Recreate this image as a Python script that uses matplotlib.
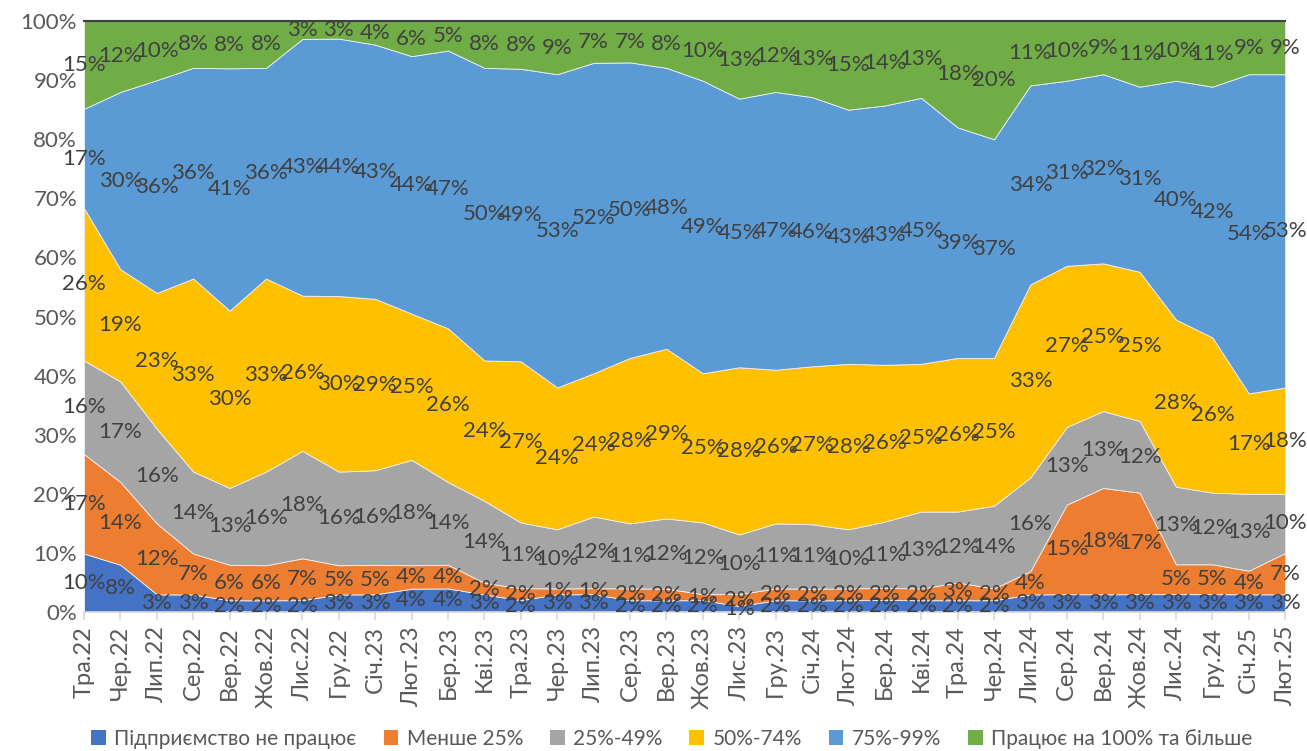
import numpy as np
import matplotlib.pyplot as plt
from matplotlib.patches import Patch

plt.rcParams['font.family'] = ['Lato', 'DejaVu Sans']

months = ["Тра.22", "Чер.22", "Лип.22", "Сер.22", "Вер.22", "Жов.22", "Лис.22", "Гру.22",
          "Січ.23", "Лют.23", "Бер.23", "Кві.23", "Тра.23", "Чер.23", "Лип.23", "Сер.23",
          "Вер.23", "Жов.23", "Лис.23", "Гру.23", "Січ.24", "Лют.24", "Бер.24", "Кві.24",
          "Тра.24", "Чер.24", "Лип.24", "Сер.24", "Вер.24", "Жов.24", "Лис.24", "Гру.24",
          "Січ.25", "Лют.25"]

not_working = [10, 8, 3, 3, 2, 2, 2, 3, 3, 4, 4, 3, 2, 3, 3, 2, 2, 2, 1, 2, 2, 2, 2, 2,
               2, 2, 3, 3, 3, 3, 3, 3, 3, 3]
less_25 = [17, 14, 12, 7, 6, 6, 7, 5, 5, 4, 4, 2, 2, 1, 1, 2, 2, 1, 2, 2, 2, 2, 2, 2,
           3, 2, 4, 15, 18, 17, 5, 5, 4, 7]
p25_49 = [16, 17, 16, 14, 13, 16, 18, 16, 16, 18, 14, 14, 11, 10, 12, 11, 12, 12, 10, 11,
          11, 10, 11, 13, 12, 14, 16, 13, 13, 12, 13, 12, 13, 10]
p50_74 = [26, 19, 23, 33, 30, 33, 26, 30, 29, 25, 26, 24, 27, 24, 24, 28, 29, 25, 28, 26,
          27, 28, 26, 25, 26, 25, 33, 27, 25, 25, 28, 26, 17, 18]
p75_99 = [17, 30, 36, 36, 41, 36, 43, 44, 43, 44, 47, 50, 49, 53, 52, 50, 48, 49, 45, 47,
          46, 43, 43, 45, 39, 37, 34, 31, 32, 31, 40, 42, 54, 53]
full = [15, 12, 10, 8, 8, 8, 3, 3, 4, 6, 5, 8, 8, 9, 7, 7, 8, 10, 13, 12, 13, 15, 14, 13,
        18, 20, 11, 10, 9, 11, 10, 11, 9, 9]

names = ["Підприємство не працює", "Менше 25%", "25%-49%", "50%-74%", "75%-99%",
         "Працює на 100% та більше"]
colors = ["#4472C4", "#ED7D31", "#A5A5A5", "#FFC000", "#5B9BD5", "#70AD47"]

raw = np.array([not_working, less_25, p25_49, p50_74, p75_99, full], dtype=float)
# 100% stacked, like the original chart
shares = raw / raw.sum(axis=0)
x = np.arange(len(months))

fig = plt.figure(figsize=(13.07, 7.51), dpi=100)
ax = fig.add_axes([0.0643, 0.185, 0.919, 0.787])

ax.stackplot(x, shares, colors=colors, linewidth=0.6, edgecolor="#f0f0f0")

# data labels in the middle of each band
bottoms = np.zeros(len(months))
for i in range(len(names)):
    mids = bottoms + shares[i] / 2
    for j in range(len(months)):
        ax.text(x[j], mids[j], f"{int(raw[i, j])}%", ha="center", va="center",
                fontsize=16, color="#404040", clip_on=False)
    bottoms += shares[i]

ax.set_xlim(0, len(months) - 1)
ax.set_ylim(0, 1)
ax.set_yticks(np.arange(0, 1.01, 0.1))
ax.set_yticklabels([f"{v}%" for v in range(0, 101, 10)], fontsize=16, color="#595959")
ax.set_xticks(x)
ax.set_xticklabels(months, rotation=90, fontsize=17, color="#595959")
ax.tick_params(axis="y", length=0, pad=5)
ax.tick_params(axis="x", length=6, color="#D9D9D9", width=1.2, pad=4)

for s in ["left", "right"]:
    ax.spines[s].set_visible(False)
ax.spines["bottom"].set_color("#D9D9D9")
ax.spines["bottom"].set_linewidth(1.2)
ax.spines["top"].set_color("#404040")
ax.spines["top"].set_linewidth(1.5)

handles = [Patch(facecolor=c, label=n) for c, n in zip(colors, names)]
fig.legend(handles=handles, loc="center", bbox_to_anchor=(0.514, 0.016), ncol=6,
           frameon=False, fontsize=15, handlelength=0.7, handleheight=0.7,
           handletextpad=0.4, columnspacing=1.3, labelcolor="#595959")

fig.savefig("out.png", dpi=100)
